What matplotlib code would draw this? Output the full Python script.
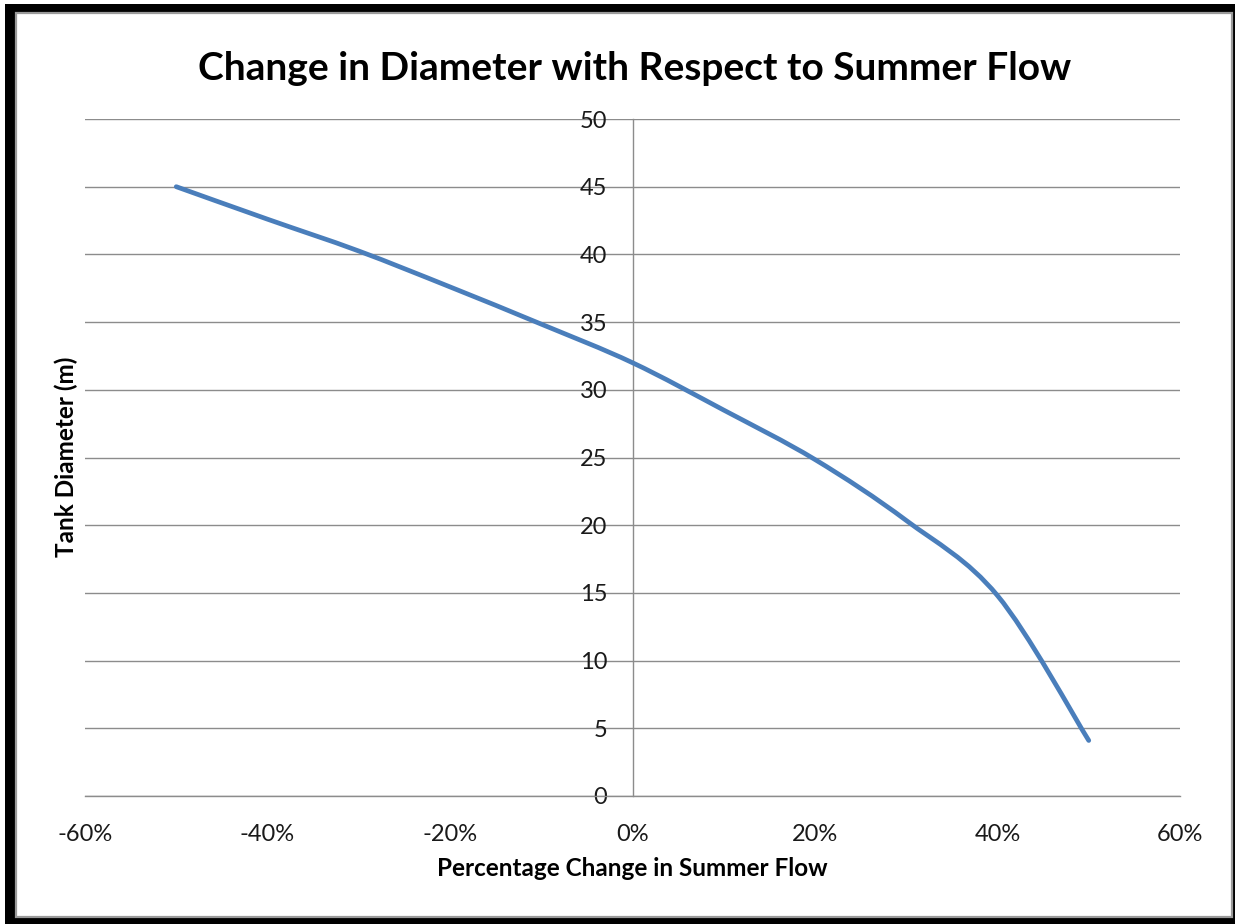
import matplotlib
matplotlib.use("Agg")
import matplotlib.pyplot as plt
from matplotlib.patches import Rectangle, PathPatch
from matplotlib.path import Path
from matplotlib.ticker import FuncFormatter

# Percentage change in summer flow and resulting tank diameter
flow_change = [-0.50, -0.40, -0.30, -0.20, -0.10, 0.00, 0.10, 0.20, 0.30, 0.40, 0.50]
diameter_m = [45.0, 42.6, 40.25, 37.6, 34.85, 32.0, 28.5, 24.85, 20.35, 14.8, 4.1]

x_ticks = [-0.6, -0.4, -0.2, 0.0, 0.2, 0.4, 0.6]
y_ticks = [0, 5, 10, 15, 20, 25, 30, 35, 40, 45, 50]

title = "Change in Diameter with Respect to Summer Flow"
x_title = "Percentage Change in Summer Flow"
y_title = "Tank Diameter (m)"

plt.rcParams["font.family"] = ["Lato", "DejaVu Sans"]

W, H = 1235, 924
fig = plt.figure(figsize=(W / 100, H / 100), dpi=100)
fig.patch.set_facecolor("white")

# chart frame: dark shadow behind a white panel with a grey edge
fig.patches.append(Rectangle((5 / W, 0), (W - 5) / W, (H - 4) / H,
                             transform=fig.transFigure, facecolor="black",
                             edgecolor="none", zorder=0))
fig.patches.append(Rectangle((16 / W, 7 / H), 1216 / W, 904 / H,
                             transform=fig.transFigure, facecolor="white",
                             edgecolor="#9a9a9a", linewidth=1.6, zorder=1))

left, right, top, bottom = 85, 1180, 119, 796
ax = fig.add_axes([left / W, (H - bottom) / H, (right - left) / W, (bottom - top) / H])
ax.set_facecolor("none")
ax.set_zorder(2)

ax.set_xlim(-0.6, 0.6)
ax.set_ylim(0, 50)
ax.set_xticks(x_ticks)
ax.set_yticks(y_ticks)
ax.xaxis.set_major_formatter(FuncFormatter(lambda v, _: f"{v * 100:.0f}%"))

grid_col = "#8c8c8c"
ax.grid(axis="y", color=grid_col, linewidth=1.0)
ax.grid(axis="x", visible=False)
ax.set_axisbelow(True)

for s in ("top", "right"):
    ax.spines[s].set_visible(False)
ax.spines["left"].set_position(("data", 0))
ax.spines["left"].set_color(grid_col)
ax.spines["left"].set_linewidth(1.0)
ax.spines["bottom"].set_color(grid_col)
ax.spines["bottom"].set_linewidth(1.0)

ax.tick_params(axis="both", length=0, labelsize=17, colors="#000000",
               labelcolor="#1a1a1a")
ax.tick_params(axis="y", pad=18)
ax.tick_params(axis="x", pad=20)

# smoothed line through the points (cubic Bezier segments, Catmull-Rom tangents)
pts = list(zip(flow_change, diameter_m))
verts = [pts[0]]
codes = [Path.MOVETO]
n = len(pts)
for i in range(n - 1):
    p0 = pts[i - 1] if i > 0 else pts[i]
    p1 = pts[i]
    p2 = pts[i + 1]
    p3 = pts[i + 2] if i + 2 < n else pts[i + 1]
    c1 = (p1[0] + (p2[0] - p0[0]) / 6, p1[1] + (p2[1] - p0[1]) / 6)
    c2 = (p2[0] - (p3[0] - p1[0]) / 6, p2[1] - (p3[1] - p1[1]) / 6)
    verts += [c1, c2, p2]
    codes += [Path.CURVE4] * 3
ax.add_patch(PathPatch(Path(verts, codes), facecolor="none", edgecolor="#4a7ebb",
                       linewidth=3.4, capstyle="round", joinstyle="round", zorder=3))

fig.text(635 / W, (H - 68) / H, title, ha="center", va="center",
         fontsize=28, fontweight="bold", color="black")
fig.text(632 / W, (H - 869) / H, x_title, ha="center", va="center",
         fontsize=17.5, fontweight="bold", color="black")
fig.text(66 / W, (H - 457) / H, y_title, ha="center", va="center", rotation=90,
         fontsize=17.5, fontweight="bold", color="black")

fig.savefig("out.png", dpi=100, facecolor="white")
